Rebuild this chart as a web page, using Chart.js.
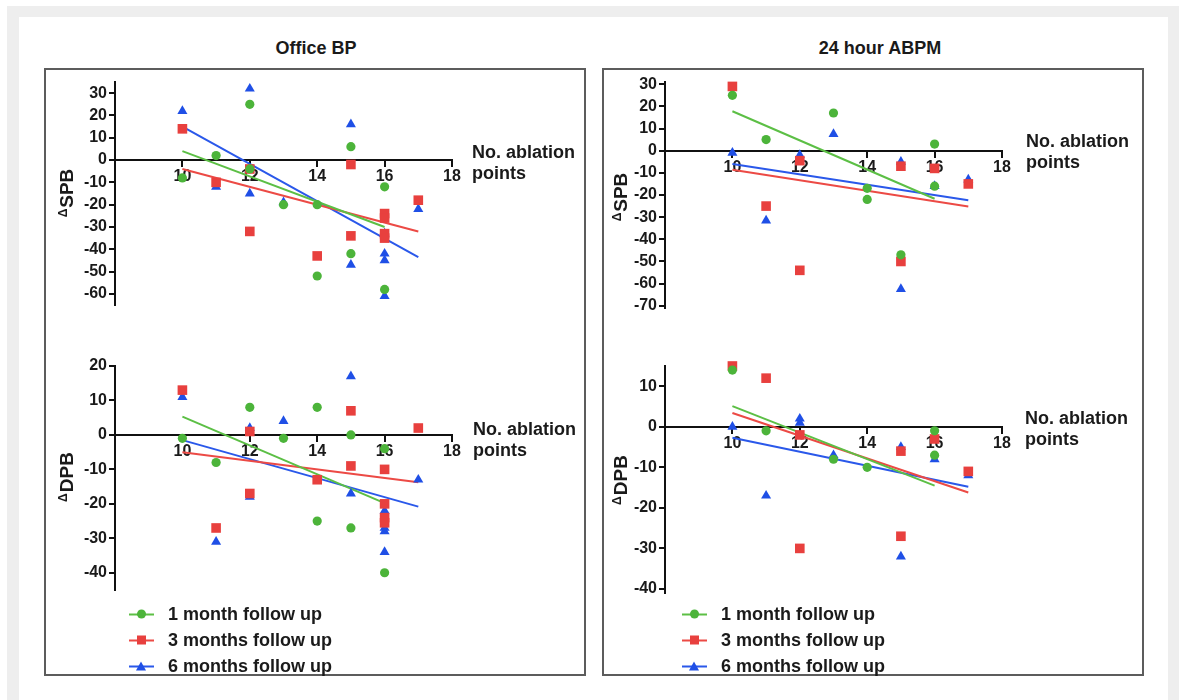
<!DOCTYPE html>
<html>
<head>
<meta charset="utf-8">
<script src="https://cdn.jsdelivr.net/npm/chart.js@4.4.1/dist/chart.umd.min.js"></script>
<style>
  html, body { margin: 0; padding: 0; width: 1183px; height: 700px; overflow: hidden; background: #fff;
    font-family: "Liberation Sans", Arial, sans-serif; color: #1a1a1a; }
  .bar { position: absolute; background: #eeeeee; }
  .box { position: absolute; top: 68px; width: 538px; height: 604px; border: 2px solid #5c5c5c; }
  canvas { position: absolute; }
  .txt { position: absolute; font-weight: bold; white-space: nowrap; }
  .title { font-size: 18px; transform: translate(-50%, -50%); }
  .xname { font-size: 18px; line-height: 21px; transform: translateY(-10px); }
  .yname { font-size: 19px; transform: translate(-50%, -50%) rotate(-90deg); }
  .yname .d { font-size: 12px; vertical-align: 6px; margin-right: 1px; }
  .leg { position: absolute; font-size: 18px; font-weight: bold; white-space: nowrap; transform: translateY(-50%); }
  .mk { position: absolute; width: 25px; height: 12px; top: 50%; margin-top: -6px; }
  .mk .ln { position: absolute; left: 0; right: 0; top: 5px; height: 2px; }
  .mk .sh { position: absolute; left: 8px; top: 1px; width: 9px; height: 9px; }
  .mk .circle { border-radius: 50%; }
  .mk .triangle { width: 0; height: 0; left: 7px; top: 1px; border-left: 5px solid transparent;
    border-right: 5px solid transparent; border-bottom: 9px solid; background: none !important; }
</style>
</head>
<body>
<div class="bar" style="left:7px;top:6px;width:1172px;height:11px"></div>
<div class="bar" style="left:7px;top:6px;width:12px;height:694px"></div>
<div class="bar" style="left:1168px;top:6px;width:11px;height:694px"></div>
<div class="box" style="left:44px"></div>
<div class="box" style="left:602px"></div>
<canvas id="officeSbp" width="538" height="270" style="left:46px;top:66px"></canvas>
<canvas id="officeDbp" width="538" height="260" style="left:46px;top:350px"></canvas>
<canvas id="abpmSbp" width="538" height="270" style="left:604px;top:66px"></canvas>
<canvas id="abpmDbp" width="538" height="260" style="left:604px;top:350px"></canvas>
<div id="labels"></div>
<script>
// x = number of ablation points, y = change in BP (mmHg)
const xTicks = [10, 12, 14, 16, 18];
const officeSbpTicks = [30, 20, 10, 0, -10, -20, -30, -40, -50, -60];
const officeDbpTicks = [20, 10, 0, -10, -20, -30, -40];
const abpmSbpTicks = [30, 20, 10, 0, -10, -20, -30, -40, -50, -60, -70];
const abpmDbpTicks = [10, 0, -10, -20, -30, -40];

const seriesNames = ['1 month follow up', '3 months follow up', '6 months follow up'];

// Office BP - ΔSPB
const officeSbp1m = [[10, -8], [11, 2], [12, 25], [12, -4], [13, -20], [14, -20], [14, -52], [15, 6], [15, -42], [16, -12], [16, -58]];
const officeSbp3m = [[10, 14], [11, -10], [12, -4], [12, -32], [14, -43], [15, -2], [15, -34], [16, -24], [16, -26], [16, -33], [16, -35], [17, -18]];
const officeSbp6m = [[10, 22], [11, -12], [12, 32], [12, -15], [13, -19], [15, 16], [15, -47], [16, -33], [16, -42], [16, -45], [16, -61], [17, -22]];
const officeSbpFit = [[[10, 4], [16, -30]], [[10, -4], [17, -32]], [[10, 15], [17, -43.5]]];

// Office BP - ΔDPB
const officeDbp1m = [[10, -1], [11, -8], [12, 8], [13, -1], [14, 8], [14, -25], [15, 0], [15, -27], [16, -4], [16, -40]];
const officeDbp3m = [[10, 13], [11, -27], [12, 1], [12, -17], [14, -13], [15, 7], [15, -9], [16, -10], [16, -20], [16, -24], [16, -25.5], [17, 2]];
const officeDbp6m = [[10, 11], [11, -31], [12, 2], [12, -18], [13, 4], [15, 17], [15, -17], [16, -22], [16, -27], [16, -28], [16, -34], [17, -13]];
const officeDbpFit = [[[10, 5.3], [16, -19.8]], [[10, -5], [17, -13.7]], [[10, -1.5], [17, -20.8]]];

// 24 hour ABPM - ΔSPB
const abpmSbp1m = [[10, 25], [11, 5], [13, 17], [14, -17], [14, -22], [15, -47], [16, 3], [16, -16]];
const abpmSbp3m = [[10, 29], [11, -25], [12, -4.5], [12, -54], [15, -7], [15, -50], [16, -8], [17, -15]];
const abpmSbp6m = [[10, -1], [11, -31.5], [12, -2], [12, -3.5], [13, 7.5], [15, -5], [15, -62.5], [16, -16], [17, -13]];
const abpmSbpFit = [[[10, 17.8], [16, -21.7]], [[10, -8.6], [17, -25.2]], [[10, -6], [17, -22.4]]];

// 24 hour ABPM - ΔDPB
const abpmDbp1m = [[10, 14], [11, -1], [13, -8], [14, -10], [16, -1], [16, -7]];
const abpmDbp3m = [[10, 15], [11, 12], [12, -2], [12, -30], [15, -6], [15, -27], [16, -3], [17, -11]];
const abpmDbp6m = [[10, 0], [11, -17], [12, 2], [12, 1], [13, -7], [15, -5], [15, -32], [16, -8], [17, -12]];
const abpmDbpFit = [[[10, 5.1], [16, -14.5]], [[10, 3.4], [17, -16.2]], [[10, -2.7], [17, -14.8]]];

const pointColors = ['#4cb43a', '#e8403e', '#1f4fe6'];
const lineColors = ['#5cbf45', '#ec4a45', '#2a58ea'];
const pointShapes = ['circle', 'rect', 'triangle'];
const pointSizes = [4.6, 6.8, 5.8];
const fontFamily = '"Liberation Sans", Arial, sans-serif';

function toXY(arr) {
    return arr.map(p => ({ x: p[0], y: p[1] }));
}

function makeChart(id, series, fits, yTicks, yMin, yMax, yAxisWidth, pad) {
    const datasets = [];
    fits.forEach((f, i) => datasets.push({
        data: toXY(f), showLine: true, borderColor: lineColors[i], borderWidth: 2,
        pointRadius: 0, order: 2, clip: false
    }));
    series.forEach((s, i) => datasets.push({
        label: seriesNames[i], data: toXY(s), pointStyle: pointShapes[i], pointRadius: pointSizes[i],
        backgroundColor: pointColors[i], borderColor: pointColors[i], borderWidth: 0, order: 1, clip: false
    }));

    const tickFont = { family: fontFamily, size: 16, weight: 'bold' };
    new Chart(document.getElementById(id), {
        type: 'scatter',
        data: { datasets: datasets },
        options: {
            responsive: false,
            animation: false,
            events: [],
            layout: { padding: pad },
            plugins: { legend: { display: false }, tooltip: { enabled: false } },
            scales: {
                x: {
                    type: 'linear', min: 8, max: 18, position: { y: 0 },
                    afterBuildTicks: (s) => { s.ticks = xTicks.map(v => ({ value: v })); },
                    grid: { drawOnChartArea: false, drawTicks: true, tickLength: 6, color: '#111', lineWidth: 2 },
                    border: { display: true, color: '#111', width: 2 },
                    ticks: { font: tickFont, color: '#1a1a1a', padding: 1, maxRotation: 0, autoSkip: false }
                },
                y: {
                    type: 'linear', min: yMin, max: yMax, position: 'left',
                    afterBuildTicks: (s) => { s.ticks = yTicks.map(v => ({ value: v })); },
                    afterFit: (s) => { s.width = yAxisWidth; },
                    grid: { drawOnChartArea: false, drawTicks: true, tickLength: 6, color: '#111', lineWidth: 2 },
                    border: { display: true, color: '#111', width: 2 },
                    ticks: { font: tickFont, color: '#1a1a1a', padding: 2, autoSkip: false }
                }
            }
        }
    });
}

function addText(cls, html, x, y) {
    const d = document.createElement('div');
    d.className = 'txt ' + cls;
    d.style.left = x + 'px';
    d.style.top = y + 'px';
    d.innerHTML = html;
    document.getElementById('labels').appendChild(d);
}

function addLegend(x, y) {
    seriesNames.forEach((name, i) => {
        const item = document.createElement('div');
        item.className = 'leg';
        item.style.left = (x + 39) + 'px';
        item.style.top = (y + i * 26) + 'px';
        item.innerHTML = `<span class="mk" style="left:-39px"><span class="ln" style="background:${lineColors[i]}"></span>` +
            `<span class="sh ${pointShapes[i]}" style="background:${pointColors[i]};color:${pointColors[i]}"></span></span>${name}`;
        document.getElementById('labels').appendChild(item);
    });
}

document.addEventListener('DOMContentLoaded', () => {
    makeChart('officeSbp', [officeSbp1m, officeSbp3m, officeSbp6m], officeSbpFit, officeSbpTicks, -65, 35, 69,
        { top: 16, bottom: 31, left: 0, right: 132 });
    makeChart('officeDbp', [officeDbp1m, officeDbp3m, officeDbp6m], officeDbpFit, officeDbpTicks, -45, 20, 69,
        { top: 16, bottom: 20, left: 0, right: 132 });
    makeChart('abpmSbp', [abpmSbp1m, abpmSbp3m, abpmSbp6m], abpmSbpFit, abpmSbpTicks, -71, 31, 61,
        { top: 16, bottom: 28, left: 0, right: 140 });
    makeChart('abpmDbp', [abpmDbp1m, abpmDbp3m, abpmDbp6m], abpmDbpFit, abpmDbpTicks, -41, 15, 61,
        { top: 16, bottom: 17, left: 0, right: 140 });

    addText('title', 'Office BP', 316, 48);
    addText('title', '24 hour ABPM', 880, 48);

    addText('yname', '<span class="d">Δ</span>SPB', 67, 193);
    addText('yname', '<span class="d">Δ</span>DPB', 67, 477);
    addText('yname', '<span class="d">Δ</span>SPB', 621, 197);
    addText('yname', '<span class="d">Δ</span>DPB', 621, 480);

    addText('xname', 'No. ablation<br>points', 472, 152);
    addText('xname', 'No. ablation<br>points', 473, 429);
    addText('xname', 'No. ablation<br>points', 1026, 141);
    addText('xname', 'No. ablation<br>points', 1025, 418);

    addLegend(129, 614);
    addLegend(682, 614);
});
</script>
</body>
</html>
